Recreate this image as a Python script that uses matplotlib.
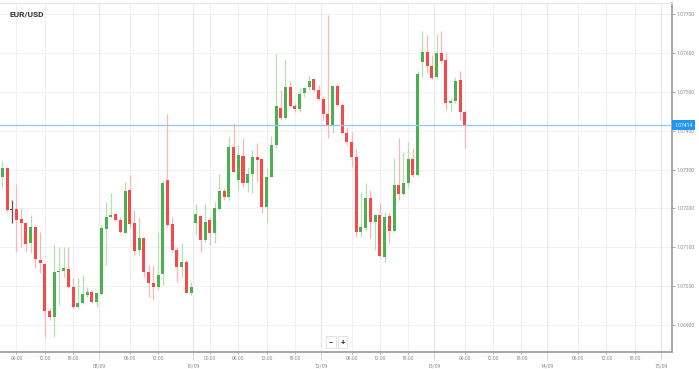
import matplotlib
matplotlib.use("Agg")
import matplotlib.pyplot as plt
import matplotlib.transforms as mtransforms

plt.rcParams['font.family'] = ['Roboto', 'DejaVu Sans']

# hourly candles, 07/09 -> 13/09 (weekend compressed)
opens = [1.07282, 1.07303, 1.07196, 1.07199, 1.07172, 1.07162, 1.07112, 1.07153, 1.07068, 1.07057,
         1.06937, 1.06920, 1.07037, 1.07040, 1.07044, 1.06999, 1.06947, 1.06956, 1.06978, 1.06986,
         1.06960, 1.06980, 1.07147, 1.07177, 1.07186, 1.07170, 1.07138, 1.07247, 1.07162, 1.07093,
         1.07123, 1.07037, 1.07009, 1.06997, 1.07031, 1.07273, 1.07159, 1.07093, 1.07050, 1.07062,
         1.06983, 1.07162, 1.07181, 1.07119, 1.07169, 1.07138, 1.07198, 1.07246, 1.07230, 1.07359,
         1.07273, 1.07336, 1.07266, 1.07289, 1.07331, 1.07327, 1.07203, 1.07282, 1.07363, 1.07458,
         1.07432, 1.07513, 1.07462, 1.07456, 1.07496, 1.07512, 1.07532, 1.07505, 1.07481, 1.07443,
         1.07415, 1.07515, 1.07466, 1.07395, 1.07371, 1.07331, 1.07140, 1.07149, 1.07228, 1.07166,
         1.07183, 1.07076, 1.07181, 1.07143, 1.07260, 1.07236, 1.07265, 1.07326, 1.07286, 1.07576,
         1.07602, 1.07565, 1.07537, 1.07599, 1.07582, 1.07472, 1.07477, 1.07529, 1.07449]
highs = [1.07323, 1.07304, 1.07222, 1.07263, 1.07201, 1.07166, 1.07183, 1.07155, 1.07140, 1.07057,
         1.06943, 1.07106, 1.07102, 1.07102, 1.07102, 1.07020, 1.07021, 1.07029, 1.06999, 1.06990,
         1.06986, 1.07158, 1.07217, 1.07239, 1.07188, 1.07179, 1.07269, 1.07286, 1.07196, 1.07179,
         1.07127, 1.07055, 1.07055, 1.07140, 1.07273, 1.07443, 1.07179, 1.07102, 1.07110, 1.07068,
         1.07012, 1.07211, 1.07183, 1.07211, 1.07179, 1.07217, 1.07289, 1.07252, 1.07383, 1.07419,
         1.07363, 1.07380, 1.07307, 1.07349, 1.07368, 1.07327, 1.07307, 1.07385, 1.07597, 1.07505,
         1.07584, 1.07528, 1.07470, 1.07509, 1.07513, 1.07543, 1.07535, 1.07517, 1.07486, 1.07697,
         1.07517, 1.07520, 1.07470, 1.07410, 1.07397, 1.07355, 1.07242, 1.07265, 1.07247, 1.07186,
         1.07213, 1.07192, 1.07188, 1.07329, 1.07380, 1.07346, 1.07372, 1.07355, 1.07552, 1.07655,
         1.07646, 1.07595, 1.07649, 1.07655, 1.07603, 1.07483, 1.07539, 1.07552, 1.07452]
lows = [1.07254, 1.07191, 1.07163, 1.07089, 1.07102, 1.07089, 1.07085, 1.07046, 1.07033, 1.06866,
        1.06913, 1.06870, 1.06952, 1.07025, 1.06995, 1.06945, 1.06944, 1.06954, 1.06973, 1.06956,
        1.06947, 1.06978, 1.07055, 1.07175, 1.07168, 1.07136, 1.07136, 1.07149, 1.07080, 1.07080,
        1.07025, 1.06973, 1.06965, 1.06990, 1.07003, 1.07153, 1.07089, 1.07012, 1.07025, 1.06982,
        1.06978, 1.07132, 1.07089, 1.07115, 1.07106, 1.07110, 1.07196, 1.07222, 1.07222, 1.07293,
        1.07247, 1.07256, 1.07241, 1.07239, 1.07269, 1.07188, 1.07162, 1.07280, 1.07355, 1.07427,
        1.07430, 1.07460, 1.07449, 1.07449, 1.07486, 1.07505, 1.07500, 1.07479, 1.07427, 1.07380,
        1.07395, 1.07462, 1.07393, 1.07363, 1.07307, 1.07127, 1.07127, 1.07145, 1.07123, 1.07093,
        1.07076, 1.07063, 1.07110, 1.07140, 1.07222, 1.07235, 1.07252, 1.07282, 1.07284, 1.07539,
        1.07548, 1.07533, 1.07535, 1.07574, 1.07453, 1.07451, 1.07470, 1.07427, 1.07355]
closes = [1.07303, 1.07196, 1.07196, 1.07170, 1.07163, 1.07109, 1.07152, 1.07069, 1.07059, 1.06937,
          1.06920, 1.07036, 1.07040, 1.07048, 1.06999, 1.06947, 1.06956, 1.06979, 1.06986, 1.06960,
          1.06982, 1.07149, 1.07177, 1.07183, 1.07170, 1.07140, 1.07246, 1.07160, 1.07091, 1.07123,
          1.07037, 1.07009, 1.06997, 1.07029, 1.07266, 1.07158, 1.07093, 1.07049, 1.07062, 1.06983,
          1.06999, 1.07185, 1.07119, 1.07166, 1.07138, 1.07200, 1.07245, 1.07230, 1.07359, 1.07294,
          1.07338, 1.07265, 1.07289, 1.07331, 1.07325, 1.07203, 1.07282, 1.07363, 1.07462, 1.07432,
          1.07513, 1.07463, 1.07455, 1.07494, 1.07509, 1.07528, 1.07505, 1.07481, 1.07443, 1.07415,
          1.07515, 1.07466, 1.07395, 1.07371, 1.07331, 1.07140, 1.07151, 1.07228, 1.07166, 1.07183,
          1.07079, 1.07179, 1.07143, 1.07260, 1.07236, 1.07265, 1.07326, 1.07286, 1.07546, 1.07603,
          1.07566, 1.07535, 1.07599, 1.07580, 1.07472, 1.07477, 1.07528, 1.07449, 1.07414]

last_price = 1.07414
price_ticks = [1.06900, 1.07000, 1.07100, 1.07200, 1.07300, 1.07400, 1.07500, 1.07600, 1.07700]

# x axis: candle index of hour labels and of day boundaries
hour_pos = [3, 9, 15, 27, 33, 44, 50, 56, 62, 74, 80, 86, 98, 104, 110, 122, 128, 134]
hour_labels = ['06:00', '12:00', '18:00', '06:00', '12:00', '00:00', '06:00', '12:00', '18:00',
               '06:00', '12:00', '18:00', '06:00', '12:00', '18:00', '06:00', '12:00', '18:00']
day_pos = [20.5, 40.5, 67.5, 91.5, 115.5, 139.5]
day_labels = ['08/09', '10/09', '12/09', '13/09', '14/09', '15/09']

green = '#4caf50'
red = '#f44a4a'
green_wick = '#b7dfb3'
red_wick = '#ffb5b5'

fig = plt.figure(figsize=(6.99, 3.69), dpi=100)
ax = fig.add_axes([0, 17 / 369, 672 / 699, 349 / 369])

# grid
for p in price_ticks:
    ax.axhline(p, color='#f2f2f2', lw=0.8, zorder=0)
for x in hour_pos:
    ax.axvline(x, color='#f0f0f0', lw=0.8, zorder=0)
for x in day_pos:
    ax.axvline(x, color='#e9e9e9', lw=0.9, zorder=0)

# candles
for i in range(len(opens)):
    o, h, l, c = opens[i], highs[i], lows[i], closes[i]
    if c > o:
        body, wick = green, green_wick
    elif c < o:
        body, wick = red, red_wick
    else:
        body, wick = '#555555', '#555555'
    ax.vlines(i, l, h, color=wick, lw=0.9, zorder=2)
    height = max(abs(c - o), 0.00003)
    ax.bar(i, height, bottom=min(o, c), width=0.64, color=body, lw=0, zorder=3)

# last price line
ax.axhline(last_price, color='#8fc9f2', lw=0.9, zorder=4)

ax.set_xlim(-0.49, 141.9)
ax.set_ylim(1.06831, 1.07728)

ax.spines['left'].set_visible(False)
ax.spines['top'].set_color('#e6e6e6')
ax.spines['top'].set_linewidth(0.8)
ax.spines['right'].set_color('#a0a0a0')
ax.spines['right'].set_linewidth(1.3)
ax.spines['bottom'].set_color('#a0a0a0')
ax.spines['bottom'].set_linewidth(1.3)

ax.yaxis.tick_right()
ax.set_yticks(price_ticks, ['%.5f' % p for p in price_ticks])
ax.tick_params(axis='y', length=2.5, width=0.6, color='#999999', labelsize=3.6,
               labelcolor='#8a8a8a', pad=1)

ax.set_xticks(hour_pos, hour_labels)
ax.tick_params(axis='x', length=1.5, width=0.6, color='#aaaaaa', labelsize=3.6,
               labelcolor='#8a8a8a', pad=1.5)

# day labels with dotted tick lines
trans = mtransforms.blended_transform_factory(ax.transData, ax.transAxes)
for x, lab in zip(day_pos, day_labels):
    ax.plot([x, x], [0, -0.022], color='#aaaaaa', lw=0.7, ls=(0, (1, 1)),
            transform=trans, clip_on=False)
    ax.text(x, -0.034, lab, transform=trans, ha='center', va='top',
            fontsize=3.6, color='#8a8a8a')

# price tag
ytrans = mtransforms.blended_transform_factory(ax.transAxes, ax.transData)
ax.text(1.004, last_price, '%.5f' % last_price, transform=ytrans, ha='left', va='center',
        fontsize=3.6, color='white', zorder=10,
        bbox=dict(boxstyle='square,pad=0.45', fc='#2196f3', ec='none'))

# title
fig.text(10 / 699, 1 - 14 / 369, 'EUR/USD', fontsize=6, weight='bold', color='#333333',
         ha='left', va='center')

# zoom buttons
fig.text(331 / 699, 1 - 342 / 369, '\u2212', fontsize=5.5, weight='bold', color='#333333',
         ha='center', va='center',
         bbox=dict(boxstyle='square,pad=0.35', fc='white', ec='#dddddd', lw=0.6))
fig.text(342.5 / 699, 1 - 342 / 369, '+', fontsize=5.5, weight='bold', color='#333333',
         ha='center', va='center',
         bbox=dict(boxstyle='square,pad=0.35', fc='white', ec='#dddddd', lw=0.6))

fig.savefig('out.png', dpi=100)
